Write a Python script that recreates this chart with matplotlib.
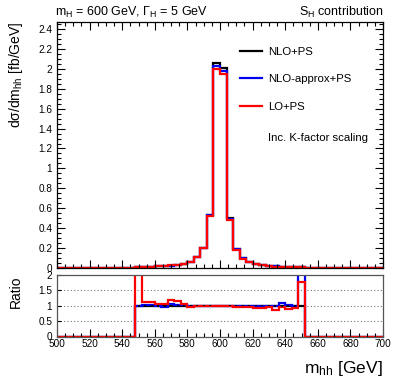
import matplotlib
matplotlib.use('Agg')
import matplotlib.pyplot as plt
import numpy as np
from matplotlib.ticker import MultipleLocator
from matplotlib.lines import Line2D

plt.rcParams['font.family'] = ['Liberation Sans', 'DejaVu Sans']
plt.rcParams['mathtext.fontset'] = 'custom'
plt.rcParams['mathtext.rm'] = 'Liberation Sans'
plt.rcParams['mathtext.it'] = 'Liberation Sans'
plt.rcParams['mathtext.default'] = 'regular'

# ---------------- data ----------------
bin_edges = np.arange(500, 704, 4)  # 50 bins of 4 GeV

nlo_ps = [0, 0, 0, 0, 0, 0, 0, 0, 0, 0, 0, 0,
          0.009, 0.011, 0.013, 0.016, 0.019, 0.024, 0.030, 0.040, 0.063, 0.107,
          0.205, 0.535, 2.055, 2.005, 0.500, 0.190, 0.098, 0.063, 0.040, 0.029,
          0.021, 0.016, 0.013, 0.011, 0.009, 0.008,
          0, 0, 0, 0, 0, 0, 0, 0, 0, 0, 0, 0]
nlo_approx_ps = [0, 0, 0, 0, 0, 0, 0, 0, 0, 0, 0, 0,
                 0.009, 0.011, 0.013, 0.016, 0.018, 0.025, 0.031, 0.040, 0.062, 0.107,
                 0.204, 0.530, 2.025, 1.975, 0.495, 0.188, 0.097, 0.062, 0.039, 0.029,
                 0.021, 0.016, 0.014, 0.011, 0.009, 0.012,
                 0, 0, 0, 0, 0, 0, 0, 0, 0, 0, 0, 0]
lo_ps = [0, 0, 0, 0, 0, 0, 0, 0, 0, 0, 0, 0,
         0.014, 0.012, 0.014, 0.017, 0.020, 0.029, 0.034, 0.042, 0.061, 0.107,
         0.203, 0.522, 2.000, 1.950, 0.482, 0.184, 0.094, 0.060, 0.037, 0.027,
         0.020, 0.014, 0.012, 0.010, 0.008, 0.010,
         0, 0, 0, 0, 0, 0, 0, 0, 0, 0, 0, 0]

ratio_nlo = [0, 0, 0, 0, 0, 0, 0, 0, 0, 0, 0, 0,
             1, 1, 1, 1, 1, 1, 1, 1, 1, 1, 1, 1, 1, 1, 1, 1, 1, 1, 1, 1, 1, 1, 1, 1, 1, 1,
             0, 0, 0, 0, 0, 0, 0, 0, 0, 0, 0, 0]
ratio_nlo_err = [0, 0, 0, 0, 0, 0, 0, 0, 0, 0, 0, 0,
                 0.04, 0.03, 0.03, 0.03, 0.03, 0.02, 0.02, 0.02, 0.01, 0.01, 0.01, 0.01, 0.005,
                 0.005, 0.01, 0.01, 0.01, 0.01, 0.02, 0.02, 0.02, 0.03, 0.03, 0.03, 0.04, 0.04,
                 0, 0, 0, 0, 0, 0, 0, 0, 0, 0, 0, 0]
ratio_approx = [0, 0, 0, 0, 0, 0, 0, 0, 0, 0, 0, 0,
                1.00, 1.02, 1.01, 0.98, 0.95, 1.07, 1.03, 1.01, 0.99, 1.00,
                1.00, 0.99, 0.99, 0.99, 0.99, 0.99, 0.99, 0.98, 0.98, 0.99,
                1.00, 0.99, 1.08, 1.02, 0.99, 3.00,
                0, 0, 0, 0, 0, 0, 0, 0, 0, 0, 0, 0]
ratio_lo = [0, 0, 0, 0, 0, 0, 0, 0, 0, 0, 0, 0,
            3.00, 1.12, 1.11, 1.07, 1.07, 1.20, 1.14, 1.05, 0.97, 1.00,
            0.99, 0.98, 0.98, 0.98, 0.98, 0.97, 0.96, 0.96, 0.93, 0.93,
            0.96, 0.86, 0.96, 0.90, 0.94, 1.78,
            0, 0, 0, 0, 0, 0, 0, 0, 0, 0, 0, 0]

labels = ['NLO+PS', 'NLO-approx+PS', 'LO+PS']
colors = ['black', '#0000ee', '#ff0000']

# ---------------- figure ----------------
W, H = 399, 383
fig = plt.figure(figsize=(W / 100, H / 100), dpi=100)

def fx(px):
    return px / W

def fy(py):
    return 1 - py / H

L, R = 57, 383
ax1 = fig.add_axes([fx(L), fy(268), fx(R) - fx(L), fy(22) - fy(268)])
ax2 = fig.add_axes([fx(L), fy(336.5), fx(R) - fx(L), fy(275) - fy(336.5)])

lw = 1.6
for vals, c in zip([nlo_ps, nlo_approx_ps, lo_ps], colors):
    ax1.stairs(vals, bin_edges, color=c, lw=lw)

ax1.set_xlim(500, 700)
ax1.set_ylim(0, 2.47)
ax1.xaxis.set_major_locator(MultipleLocator(20))
ax1.xaxis.set_minor_locator(MultipleLocator(5))
ax1.yaxis.set_major_locator(MultipleLocator(0.2))
ax1.yaxis.set_minor_locator(MultipleLocator(0.05))
ax1.tick_params(which='both', direction='in', top=True, right=True, labelsize=7.2,
                width=0.8)
ax1.tick_params(which='major', length=6)
ax1.tick_params(which='minor', length=3)
ax1.tick_params(axis='x', labelbottom=False)
ax1.set_yticks(np.arange(0, 2.41, 0.2))
ax1.set_yticklabels(['0', '0.2', '0.4', '0.6', '0.8', '1', '1.2', '1.4', '1.6',
                     '1.8', '2', '2.2', '2.4'])
for s in ax1.spines.values():
    s.set_linewidth(0.9)

handles = [Line2D([], [], color=c, lw=lw) for c in colors]
ax1.legend(handles, labels, loc='upper left', bbox_to_anchor=(0.561, 0.900),
           frameon=False, fontsize=8.2, handlelength=1.9, handletextpad=0.55,
           labelspacing=1.55, borderpad=0, borderaxespad=0)
ax1.text(0.647, 0.528, 'Inc. K-factor scaling', transform=ax1.transAxes,
         fontsize=8.2, va='center', ha='left')

# ratio panel
for yv in [0.5, 1.0, 1.5]:
    ax2.axhline(yv, color='#777777', ls=(0, (1, 2)), lw=0.8, zorder=0)
ax2.stairs(ratio_nlo, bin_edges, color='black', lw=lw)
centers = 0.5 * (bin_edges[:-1] + bin_edges[1:])
mask = np.array(ratio_nlo) > 0
ax2.errorbar(centers[mask], np.array(ratio_nlo)[mask], yerr=np.array(ratio_nlo_err)[mask],
             fmt='none', ecolor='black', elinewidth=1.2, capsize=0, zorder=5)
ax2.stairs(ratio_approx, bin_edges, color=colors[1], lw=lw)
ax2.stairs(ratio_lo, bin_edges, color=colors[2], lw=lw)
ax2.set_xlim(500, 700)
ax2.set_ylim(0, 2)
ax2.xaxis.set_major_locator(MultipleLocator(20))
ax2.xaxis.set_minor_locator(MultipleLocator(5))
ax2.set_yticks([0, 0.5, 1, 1.5, 2])
ax2.set_yticklabels(['0', '0.5', '1', '1.5', '2'])
ax2.yaxis.set_minor_locator(MultipleLocator(0.1))
ax2.tick_params(which='both', direction='in', labelsize=7.2, width=0.8)
ax2.tick_params(axis='y', which='major', length=3)
ax2.tick_params(axis='y', which='minor', length=0)
ax2.tick_params(axis='x', which='major', length=6, pad=2)
ax2.tick_params(axis='x', which='minor', length=3)
for s in ax2.spines.values():
    s.set_linewidth(0.9)
    s.set_color('#555555')

# texts
fig.text(fx(55), fy(12), r'm$_{H}$ = 600 GeV, $Γ_{H}$ = 5 GeV', fontsize=9,
         ha='left', va='center')
fig.text(fx(383), fy(12), r'S$_{H}$ contribution', fontsize=9, ha='right', va='center')
fig.text(fx(16), fy(22), r'dσ/dm$_{hh}$ [fb/GeV]', fontsize=10, rotation=90,
         ha='center', va='top')
fig.text(fx(16), fy(275), 'Ratio', fontsize=10, rotation=90, ha='center', va='top')
fig.text(fx(383), fy(369), r'm$_{hh}$ [GeV]', fontsize=12.5, ha='right', va='center')

fig.savefig('out.png', dpi=100)
